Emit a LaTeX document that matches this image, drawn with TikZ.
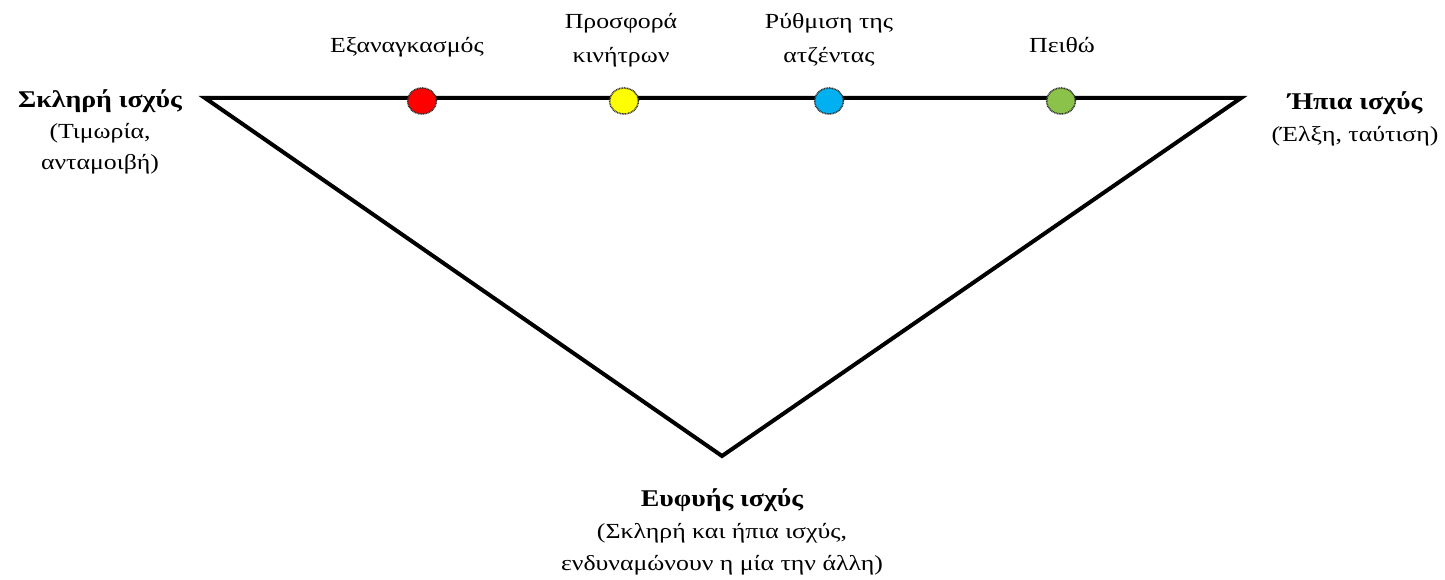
\documentclass[tikz,border=0pt]{standalone}
\usepackage{fontspec}
\setmainfont{Liberation Serif}
\newfontfamily\regf[FakeStretch=1.2]{Liberation Serif}
\newfontfamily\boldf[FakeStretch=1.16]{Liberation Serif Bold}
\usetikzlibrary{shapes.geometric}
\definecolor{dotred}{HTML}{FF0000}
\definecolor{dotyellow}{HTML}{FFFF00}
\definecolor{dotblue}{HTML}{00B0F0}
\definecolor{dotgreen}{HTML}{8BC34A}
\newcommand{\bt}[1]{{\boldf\fontsize{24}{31}\selectfont #1}}
\tikzset{
  x=1pt, y=-1pt,
  lbl/.style={align=center, font=\regf\fontsize{21.5}{34}\selectfont, inner sep=0pt},
  dot/.style={ellipse, minimum width=29pt, minimum height=26pt, inner sep=0pt, draw=black!80, line width=1.6pt, dash pattern=on 0.9pt off 0.7pt},
  tri/.style={line width=4pt, line join=miter}
}
\begin{document}
\begin{tikzpicture}
\useasboundingbox (0,0) rectangle (1445,580);
\coordinate (tl) at (205,98);
\coordinate (tr) at (1241,98);
\coordinate (bt) at (722,456);
\draw[tri] (tl) -- (tr) -- (bt) -- cycle;
\node[dot, fill=dotred] (d1) at (422,101) {};
\node[dot, fill=dotyellow] (d2) at (624,101) {};
\node[dot, fill=dotblue] (d3) at (829,101) {};
\node[dot, fill=dotgreen] (d4) at (1061,101) {};
\node[lbl] (t1) at (407,47) {Εξαναγκασμός};
\node[lbl] (t2) at (621,40) {Προσφορά\\κινήτρων};
\node[lbl] (t3) at (829,40) {Ρύθμιση της\\ατζέντας};
\node[lbl] (t4) at (1062,45) {Πειθώ};
\node[lbl, font=\regf\fontsize{21.5}{31}\selectfont] (left) at (100,132) {\bt{Σκληρή ισχύς}\\(Τιμωρία,\\ανταμοιβή)};
\node[lbl, font=\regf\fontsize{21.5}{32}\selectfont] (right) at (1355,119) {\bt{Ήπια ισχύς}\\(Έλξη, ταύτιση)};
\node[lbl, font=\regf\fontsize{21.5}{32}\selectfont] (bottom) at (722,532) {\bt{Ευφυής ισχύς}\\(Σκληρή και ήπια ισχύς,\\ενδυναμώνουν η μία την άλλη)};
\end{tikzpicture}
\end{document}
